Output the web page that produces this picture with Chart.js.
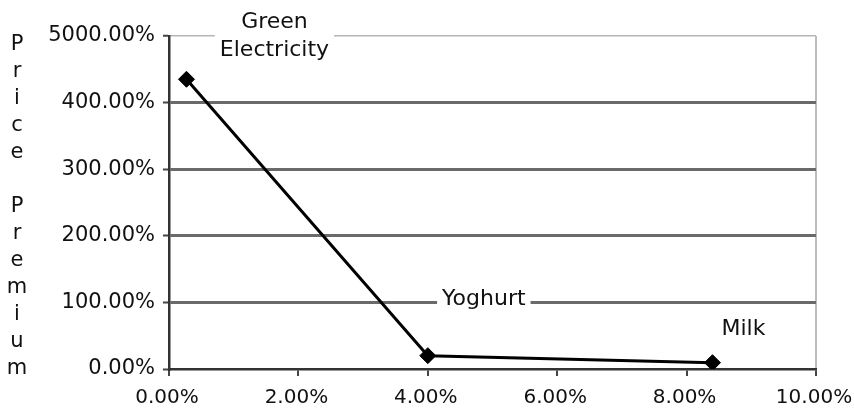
<!DOCTYPE html>
<html>
<head>
<meta charset="utf-8">
<script src="https://cdn.jsdelivr.net/npm/chart.js@4.4.0/dist/chart.umd.min.js"></script>
<style>
  html, body { margin: 0; padding: 0; background: #ffffff; }
  #wrap { width: 854px; height: 418px; position: relative; }
</style>
</head>
<body>
<div id="wrap"><canvas id="chart"></canvas></div>
<script>
// Products and their market share (x, %) versus price premium (y, %)
const products = ['Green Electricity', 'Yoghurt', 'Milk'];
const marketShare = [0.27, 4.0, 8.4];
const pricePremium = [435, 20, 9.5];

// Axis tick labels
const xTickLabels = ['0.00%', '2.00%', '4.00%', '6.00%', '8.00%', '10.00%'];
const yTickLabels = ['0.00%', '100.00%', '200.00%', '300.00%', '400.00%', '5000.00%'];
const yTitle = 'Price Premium';

const FONT = 'DejaVu Sans';

// Placement of each product's caption relative to its marker
const captionStyle = [
  { lines: ['Green', 'Electricity'], dx: 88, dy: -57, lineGap: 28 },
  { lines: ['Yoghurt'], dx: 56, dy: -56, lineGap: 28 },
  { lines: ['Milk'], dx: 31, dy: -33, lineGap: 28 }
];

const points = marketShare.map((x, i) => ({ x: x, y: pricePremium[i] }));

// Captions with a white backing so they break the grid lines
const captionPlugin = {
  id: 'captions',
  afterDatasetsDraw(chart) {
    const ctx = chart.ctx;
    const meta = chart.getDatasetMeta(0);
    ctx.save();
    ctx.font = '22px "' + FONT + '"';
    ctx.textAlign = 'center';
    ctx.textBaseline = 'middle';
    meta.data.forEach((el, i) => {
      const st = captionStyle[i];
      const cx = el.x + st.dx;
      let w = 0;
      st.lines.forEach(l => { w = Math.max(w, ctx.measureText(l).width); });
      const top = el.y + st.dy - 14;
      const h = st.lines.length * st.lineGap;
      ctx.fillStyle = '#ffffff';
      ctx.fillRect(cx - w / 2 - 5, top, w + 10, h);
      ctx.fillStyle = '#111111';
      st.lines.forEach((l, k) => {
        ctx.fillText(l, cx, el.y + st.dy + k * st.lineGap);
      });
    });
    ctx.restore();
  }
};

// Vertical axis title written one letter per line
const stackedTitlePlugin = {
  id: 'stackedTitle',
  afterDraw(chart) {
    const ctx = chart.ctx;
    ctx.save();
    ctx.font = '21px "' + FONT + '"';
    ctx.fillStyle = '#111111';
    ctx.textAlign = 'center';
    ctx.textBaseline = 'middle';
    const chars = yTitle.split('');
    chars.forEach((ch, k) => {
      if (ch !== ' ') ctx.fillText(ch, 17, 45 + k * 27);
    });
    ctx.restore();
  }
};

new Chart(document.getElementById('chart'), {
  type: 'scatter',
  data: {
    datasets: [{
      label: 'Products',
      data: points,
      showLine: true,
      borderColor: '#000000',
      borderWidth: 3,
      backgroundColor: '#000000',
      pointStyle: 'rectRot',
      pointRadius: 8,
      pointHoverRadius: 8,
      pointBorderWidth: 1,
      pointBorderColor: '#000000',
      tension: 0
    }]
  },
  options: {
    responsive: true,
    maintainAspectRatio: false,
    animation: false,
    events: [],
    layout: { padding: { top: 36, right: 38, left: 0, bottom: 0 } },
    plugins: {
      legend: { display: false },
      tooltip: { enabled: false },
      title: { display: false }
    },
    scales: {
      x: {
        type: 'linear',
        min: 0,
        max: 10,
        ticks: {
          stepSize: 2,
          autoSkip: false,
          maxRotation: 0,
          padding: 10,
          labelOffset: -2,
          color: '#111111',
          font: { family: FONT, size: 20 },
          callback: (v, i) => xTickLabels[i]
        },
        grid: {
          color: (c) => c.index === 5 ? '#bdbdbd' : 'rgba(0,0,0,0)',
          lineWidth: 2,
          drawTicks: true,
          tickLength: 7,
          tickColor: '#444444',
          tickWidth: 2
        },
        border: { display: true, color: '#333333', width: 2.5 },
        afterFit: (s) => { s.height = 49; s.paddingLeft = 0; s.paddingRight = 0; }
      },
      y: {
        min: 0,
        max: 500,
        ticks: {
          stepSize: 100,
          autoSkip: false,
          padding: 8,
          color: '#111111',
          font: { family: FONT, size: 21 },
          callback: (v, i) => yTickLabels[i]
        },
        grid: {
          color: (c) => c.index === 0 ? 'rgba(0,0,0,0)' : (c.index === 5 ? '#b5b5b5' : '#6a6a6a'),
          lineWidth: (c) => c.index === 5 ? 1.5 : 3,
          drawTicks: true,
          tickLength: 6,
          tickColor: '#444444',
          tickWidth: 2
        },
        border: { display: true, color: '#333333', width: 2.5 },
        afterFit: (s) => { s.width = 169; s.paddingTop = 0; s.paddingBottom = 0; }
      }
    }
  },
  plugins: [captionPlugin, stackedTitlePlugin]
});
</script>
</body>
</html>
